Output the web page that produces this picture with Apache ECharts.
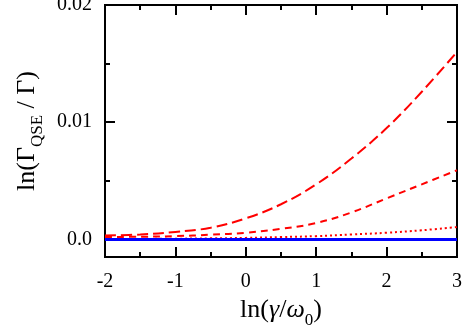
<!DOCTYPE html>
<html>
<head>
<meta charset="utf-8">
<script src="https://cdn.jsdelivr.net/npm/echarts@6/dist/echarts.min.js"></script>
<style>
  html, body { margin: 0; padding: 0; background: #fff; }
  #chart { width: 463px; height: 326px; }
</style>
</head>
<body>
<div id="chart"></div>
<script>
// ln(gamma/omega0) sample points
var xValues = [-2, -1.5, -1, -0.5, 0, 0.5, 1, 1.5, 2, 2.5, 3];
// long dashed curve
var longDash = [0.00034, 0.00042, 0.00064, 0.0010, 0.0018, 0.0030, 0.0047, 0.0069, 0.0095, 0.0126, 0.0160];
// medium dashed curve
var midDash = [0.0002, 0.00023, 0.00028, 0.0004, 0.00057, 0.0009, 0.0014, 0.0023, 0.0035, 0.0047, 0.0059];
// dotted curve
var dotted = [0.00003, 0.00004, 0.00006, 0.00009, 0.00013, 0.0002, 0.00028, 0.00042, 0.00057, 0.00078, 0.00105];
// flat blue reference
var flat = [0, 0, 0, 0, 0, 0, 0, 0, 0, 0, 0];

var yMajor = [0, 0.01, 0.02];
var yMinor = [0.005, 0.015];
var yLabels = {'0': '0.0', '0.01': '0.01', '0.02': '0.02'};

var serif = '"Liberation Serif", "DejaVu Serif", serif';

function pairs(ys) {
	return xValues.map(function(x, i) { return [x, ys[i]]; });
}

var chart = echarts.init(document.getElementById('chart'));

// rich styles: main text pinned to top, subscript pushed to the bottom of the line
var titleRich = {
	t: { fontFamily: serif, fontSize: 26, color: '#000', verticalAlign: 'top', padding: [0, 0, 6, 0] },
	i: { fontFamily: serif, fontSize: 26, fontStyle: 'italic', color: '#000', verticalAlign: 'top', padding: [0, 0, 6, 0] },
	s: { fontFamily: serif, fontSize: 17, color: '#000', verticalAlign: 'bottom' }
};

function yAx(pos, ticks, len, withLabels) {
	return {
		type: 'value',
		position: pos,
		min: -0.0015,
		max: 0.02,
		axisLine: { show: true, onZero: false, lineStyle: { color: '#000', width: 2 } },
		axisTick: { show: true, inside: true, length: len, customValues: ticks, lineStyle: { color: '#000', width: 2 } },
		axisLabel: withLabels ? {
			show: true, customValues: ticks, margin: 13,
			fontFamily: serif, fontSize: 20, color: '#000',
			formatter: function(v) { return yLabels[String(v)] || String(v); }
		} : { show: false },
		splitLine: { show: false }
	};
}

function xAx(pos, withLabels) {
	return {
		type: 'value',
		position: pos,
		min: -2,
		max: 3,
		interval: 1,
		axisLine: { show: true, onZero: false, lineStyle: { color: '#000', width: 2 } },
		axisTick: { show: true, inside: true, length: 10, lineStyle: { color: '#000', width: 2 } },
		minorTick: { show: true, splitNumber: 2, length: 5, lineStyle: { color: '#000', width: 2 } },
		axisLabel: withLabels ? { show: true, margin: 15, fontFamily: serif, fontSize: 20, color: '#000' } : { show: false },
		splitLine: { show: false },
		minorSplitLine: { show: false }
	};
}

var xBottom = xAx('bottom', true);
xBottom.name = '{t|ln(}{i|γ}{t|/}{i|ω}{s|0}{t|)}';
xBottom.nameLocation = 'middle';
xBottom.nameGap = 38;
xBottom.nameTextStyle = { rich: titleRich };

var yLeft = yAx('left', yMajor, 10, true);
yLeft.name = '{t|ln(Γ}{s|QSE}{t| / Γ)}';
yLeft.nameLocation = 'middle';
yLeft.nameGap = 57;
yLeft.nameRotate = 90;
yLeft.nameTextStyle = { rich: titleRich };

chart.setOption({
	animation: false,
	backgroundColor: '#fff',
	grid: {
		left: 105, right: 6, top: 5, bottom: 69,
		outerBoundsMode: 'none', containLabel: false,
		show: true, borderColor: '#000', borderWidth: 2, backgroundColor: 'transparent'
	},
	xAxis: [xBottom, xAx('top', false)],
	yAxis: [
		yLeft,
		yAx('left', yMinor, 5, false),
		yAx('right', yMajor, 10, false),
		yAx('right', yMinor, 5, false)
	],
	series: [
		{
			type: 'line', xAxisIndex: 0, yAxisIndex: 0, data: pairs(flat),
			showSymbol: false, lineStyle: { color: '#0000ff', width: 3 }, z: 3
		},
		{
			type: 'line', xAxisIndex: 0, yAxisIndex: 0, data: pairs(dotted), smooth: 0.4,
			showSymbol: false, lineStyle: { color: '#ff0000', width: 2, type: [2, 3] }, z: 2
		},
		{
			type: 'line', xAxisIndex: 0, yAxisIndex: 0, data: pairs(midDash), smooth: 0.4,
			showSymbol: false, lineStyle: { color: '#ff0000', width: 2, type: [7, 5] }, z: 2
		},
		{
			type: 'line', xAxisIndex: 0, yAxisIndex: 0, data: pairs(longDash), smooth: 0.4,
			showSymbol: false, lineStyle: { color: '#ff0000', width: 2, type: [11, 5] }, z: 2
		}
	]
});
</script>
</body>
</html>
